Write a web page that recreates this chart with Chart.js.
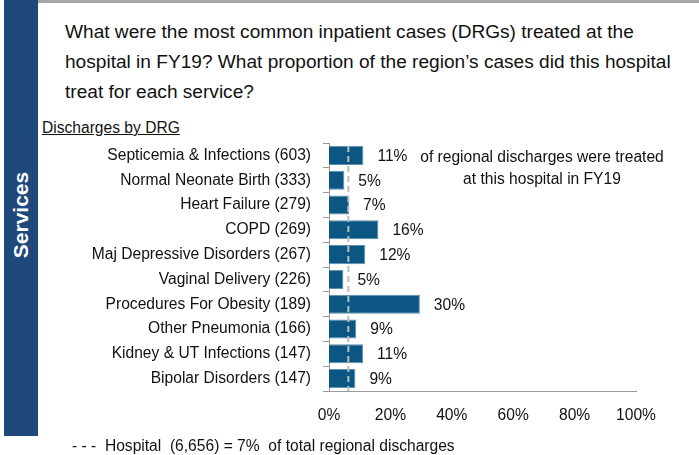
<!DOCTYPE html>
<html>
<head>
<meta charset="utf-8">
<script src="https://cdn.jsdelivr.net/npm/chart.js@4.4.1/dist/chart.umd.min.js"></script>
<style>
	html, body { margin: 0; padding: 0; background: #fff; }
	body { width: 699px; height: 455px; position: relative; overflow: hidden; font-family: 'Liberation Sans', Arial, sans-serif; color: #111; }
	#top_bar { position: absolute; left: 38px; top: 0; width: 661px; height: 3px; background: #a6a6a6; }
	#side_bar { position: absolute; left: 4px; top: 0; width: 34px; height: 436px; background: #1f497d; }
	#side_title { position: absolute; left: 21px; top: 215px; transform: translate(-50%, -50%) rotate(-90deg); color: #fff; font-weight: bold; font-size: 21px; white-space: nowrap; }
	#title { position: absolute; left: 65px; top: 17px; width: 634px; font-size: 19.1px; line-height: 30px; white-space: nowrap; }
	#sub_title { position: absolute; left: 42px; top: 119px; font-size: 15.6px; line-height: 18px; text-decoration: underline; }
	#note { position: absolute; left: 392px; top: 146px; width: 300px; text-align: center; font-size: 15.6px; line-height: 22px; }
	#legend { position: absolute; left: 72px; top: 437px; font-size: 15.6px; line-height: 18px; white-space: pre; }
	#chart_canvas { position: absolute; left: 0; top: 0; }
</style>
</head>
<body>
<div id="top_bar"></div>
<div id="side_bar"></div>
<div id="side_title">Services</div>
<div id="title">What were the most common inpatient cases (DRGs) treated at the<br>hospital in FY19? What proportion of the region’s cases did this hospital<br>treat for each service?</div>
<div id="sub_title">Discharges by DRG</div>
<canvas id="chart_canvas" width="699" height="455"></canvas>
<div id="note">of regional discharges were treated<br>at this hospital in FY19</div>
<div id="legend">- - -  Hospital  (6,656) = 7%  of total regional discharges</div>
<script>
const DRG_NAMES = [
	'Septicemia & Infections',
	'Normal Neonate Birth',
	'Heart Failure',
	'COPD',
	'Maj Depressive Disorders',
	'Vaginal Delivery',
	'Procedures For Obesity',
	'Other Pneumonia',
	'Kidney & UT Infections',
	'Bipolar Disorders'
];
const DISCHARGES = [603, 333, 279, 269, 267, 226, 189, 166, 147, 147];
// share of regional discharges (bar length) and the printed labels
const SHARES = [11.2, 5.0, 6.5, 16.1, 11.8, 4.7, 29.6, 8.9, 11.1, 8.6];
const SHARE_LABELS = ['11%', '5%', '7%', '16%', '12%', '5%', '30%', '9%', '11%', '9%'];
const HOSPITAL_SHARE = [6.3];
const X_TICKS = [0, 20, 40, 60, 80, 100];

const FONT = "'Liberation Sans', Arial, sans-serif";
const TEXT_COLOR = '#111';
const AXIS_COLOR = '#9a9a9a';

let labels = DRG_NAMES.map((n, i) => n + ' (' + DISCHARGES[i] + ')');

const hospital_line = {
	id: 'hospital_line',
	afterDatasetsDraw(chart) {
		let ctx = chart.ctx;
		let area = chart.chartArea;
		let x = chart.scales.x.getPixelForValue(HOSPITAL_SHARE[0]);
		ctx.save();
		ctx.strokeStyle = '#bdbdbd';
		ctx.lineWidth = 2;
		ctx.setLineDash([6, 4]);
		ctx.beginPath();
		ctx.moveTo(x, area.top + 3);
		ctx.lineTo(x, area.bottom);
		ctx.stroke();
		ctx.restore();

		// value labels right of the bars
		ctx.save();
		ctx.font = '15.6px ' + FONT;
		ctx.fillStyle = TEXT_COLOR;
		ctx.textAlign = 'left';
		ctx.textBaseline = 'middle';
		chart.getDatasetMeta(0).data.forEach((bar, i) => {
			ctx.fillText(SHARE_LABELS[i], bar.x + 14, bar.y + 1);
		});
		ctx.restore();
	}
};

let chart = new Chart(document.getElementById('chart_canvas'), {
	type: 'bar',
	data: {
		labels: labels,
		datasets: [{
			data: SHARES,
			backgroundColor: '#0b5682',
			borderColor: '#5f8fad',
			borderWidth: 1,
			borderSkipped: 'left',
			barPercentage: 0.77,
			categoryPercentage: 1.0
		}]
	},
	options: {
		indexAxis: 'y',
		responsive: false,
		animation: false,
		events: [],
		layout: {
			padding: { left: 0, top: 143, right: 63, bottom: 0 }
		},
		plugins: {
			legend: { display: false },
			tooltip: { enabled: false },
			title: { display: false }
		},
		scales: {
			x: {
				min: 0,
				max: 100,
				afterBuildTicks: (scale) => { scale.ticks = X_TICKS.map(v => ({ value: v })); },
				afterFit: (scale) => { scale.height = 64; },
				grid: { display: false, drawTicks: false },
				border: { display: true, color: AXIS_COLOR, width: 1 },
				ticks: {
					padding: 15,
					color: TEXT_COLOR,
					font: { family: FONT, size: 15.6 },
					callback: (v) => v + '%'
				}
			},
			y: {
				afterFit: (scale) => { scale.width = 329; },
				grid: {
					display: true,
					drawOnChartArea: false,
					drawTicks: true,
					tickLength: 6,
					offset: true,
					color: AXIS_COLOR
				},
				border: { display: true, color: AXIS_COLOR, width: 1 },
				ticks: {
					padding: 12,
					color: TEXT_COLOR,
					font: { family: FONT, size: 15.6 }
				}
			}
		}
	},
	plugins: [hospital_line]
});
</script>
</body>
</html>
